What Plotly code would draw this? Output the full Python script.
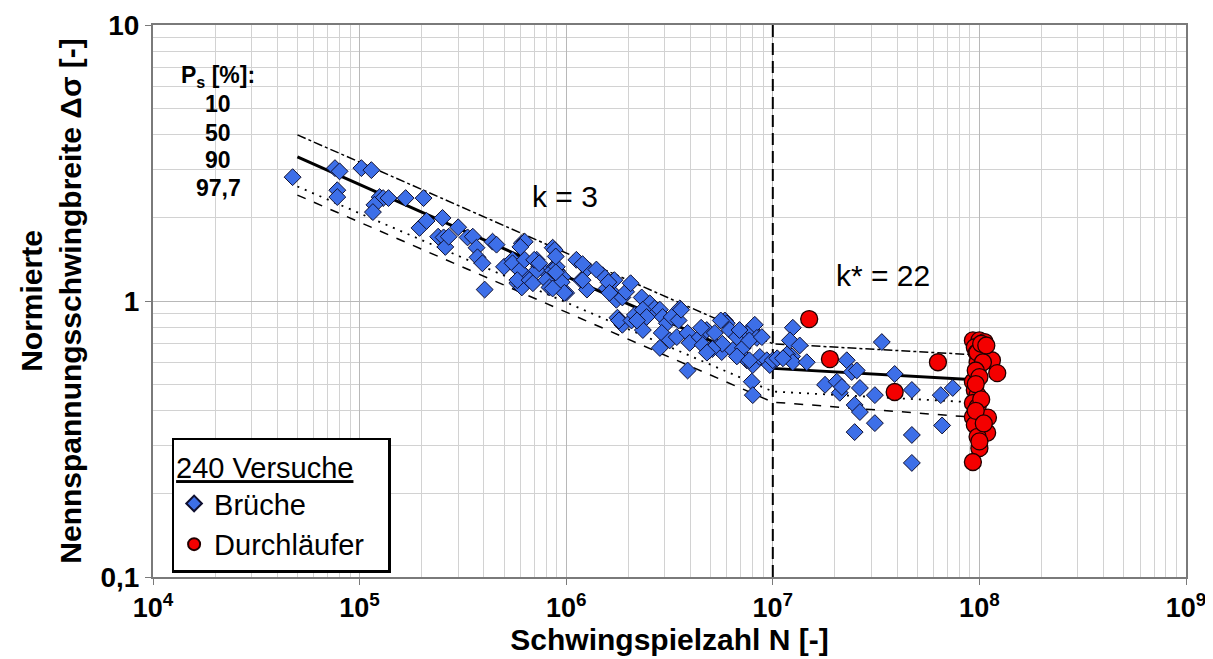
import plotly.graph_objects as go

# ---------------- data ----------------
brueche_N = [
    4.74e4, 7.6e4, 8.0e4, 7.8e4, 7.8e4, 1.02e5, 1.14e5, 1.25e5, 1.30e5, 1.38e5,
    1.18e5, 1.16e5, 1.67e5, 2.04e5, 1.95e5, 2.11e5, 2.52e5, 3.0e5, 2.4e5, 2.55e5,
    2.6e5, 2.7e5, 3.33e5, 3.53e5, 3.68e5, 3.72e5, 3.93e5, 4.03e5, 4.4e5, 4.6e5,
    5.0e5, 5.5e5, 5.8e5, 6.1e5, 6.1e5, 6.3e5, 5.8e5, 6.1e5, 7.2e5, 7.4e5,
    8.0e5, 8.1e5, 8.6e5, 8.8e5, 9.0e5, 9.6e5, 1.0e6,
    5.5e5, 5.96e5, 5.8e5, 6.3e5, 6.0e5, 6.65e5, 6.9e5, 7.2e5, 7.0e5, 7.4e5,
    8.0e5, 8.3e5, 8.6e5, 8.8e5, 9.0e5, 9.5e5, 9.8e5, 1.12e6, 1.18e6, 1.26e6,
    1.26e6, 1.50e6, 1.57e6, 1.66e6, 1.71e6, 1.75e6, 1.87e6, 1.95e6, 1.77e6, 1.87e6,
    8.9e5, 8.9e5, 8.6e5, 1.2e6, 1.6e6, 2.05e6, 1.2e6, 1.4e6,
    1.62e6, 2.32e6, 2.54e6, 2.68e6, 1.8e6, 2.07e6, 2.15e6, 2.35e6, 2.45e6, 2.84e6,
    2.93e6, 3.07e6, 3.24e6, 3.55e6, 2.35e6, 2.90e6, 3.17e6, 3.43e6, 3.87e6, 3.96e6,
    2.84e6, 3.87e6, 4.43e6, 4.58e6, 4.79e6, 4.95e6, 5.24e6, 5.36e6, 5.66e6, 5.86e6,
    5.99e6, 6.19e6, 6.40e6, 6.70e6, 7.16e6, 7.48e6, 7.91e6, 8.18e6, 8.37e6, 7.48e6,
    8.0e6, 8.65e6, 9.35e6, 9.67e6, 7.91e6, 8.0e6,
    4.5e6, 5.6e6, 6.9e6, 7.7e6, 6.7e6, 7.7e6, 5.7e6, 5.1e6, 4.8e6, 3.5e6, 2.2e6, 3.6e6,
    8.85e6, 1.0e7, 1.05e7,
    1.25e7, 1.21e7, 1.35e7, 1.24e7, 1.17e7, 1.25e7, 1.46e7, 1.12e7, 1.79e7, 2.04e7,
    2.11e7, 2.28e7, 2.41e7, 2.55e7, 2.64e7, 2.16e7, 2.49e7, 2.64e7, 3.12e7, 3.12e7,
    2.49e7, 3.37e7, 3.89e7, 4.71e7, 4.71e7, 4.71e7, 6.5e7, 7.43e7, 6.6e7,
]
brueche_S = [
    2.81, 3.03, 2.95, 2.52, 2.38, 3.03, 2.98, 2.38, 2.36, 2.36,
    2.23, 2.10, 2.36, 2.36, 1.84, 1.95, 2.00, 1.85, 1.71, 1.70,
    1.57, 1.71, 1.70, 1.71, 1.56, 1.44, 1.37, 1.10, 1.64, 1.60,
    1.33, 1.41, 1.33, 1.27, 1.62, 1.64, 1.16, 1.12, 1.41, 1.33,
    1.27, 1.19, 1.56, 1.33, 1.29, 1.22, 1.07,
    1.37, 1.29, 1.19, 1.41, 1.57, 1.19, 1.16, 1.29, 1.41, 1.37,
    1.19, 1.12, 1.29, 1.53, 1.33, 1.17, 1.07, 1.41, 1.19, 1.31,
    1.10, 1.24, 1.11, 1.08, 1.19, 1.01, 1.03, 1.08, 0.87, 0.82,
    1.45, 1.27, 1.11, 1.19, 1.17, 1.16, 1.36, 1.30,
    1.07, 1.03, 0.98, 0.94, 0.85, 0.85, 0.89, 0.93, 0.875, 0.93,
    0.875, 0.83, 0.875, 0.94, 0.785, 0.766, 0.72, 0.74, 0.766, 0.705,
    0.676, 0.56, 0.74, 0.693, 0.785, 0.664, 0.766, 0.68, 0.653, 0.85,
    0.83, 0.785, 0.664, 0.74, 0.676, 0.766, 0.785, 0.82, 0.735, 0.61,
    0.586, 0.627, 0.61, 0.586, 0.51, 0.456,
    0.80, 0.85, 0.785, 0.72, 0.63, 0.61, 0.70, 0.67, 0.65, 0.85, 0.85, 0.93,
    0.74, 0.61, 0.62,
    0.80, 0.72, 0.69, 0.63, 0.64, 0.60, 0.60, 0.62, 0.497, 0.51,
    0.465, 0.61, 0.553, 0.56, 0.484, 0.488, 0.42, 0.396, 0.456, 0.361,
    0.335, 0.71, 0.544, 0.476, 0.327, 0.259, 0.456, 0.484, 0.354,
]
durch_N = [
    1.5e7, 1.89e7, 3.89e7, 6.3e7,
    9.3e7, 1.0e8, 1.06e8, 9.5e7, 9.7e7, 9.8e7, 1.15e8, 1.22e8, 9.8e7, 9.3e7,
    9.5e7, 9.8e7, 9.3e7, 9.8e7, 9.3e7, 1.1e8, 9.5e7, 1.09e8, 9.8e7, 1.0e8,
    9.3e7, 9.8e7, 1.04e8,
    1.02e8, 1.08e8, 9.6e7, 1.0e8, 9.6e7, 1.02e8, 9.6e7, 1.05e8, 1.0e8,
]
durch_S = [
    0.86, 0.616, 0.468, 0.60,
    0.72, 0.72, 0.71, 0.68, 0.65, 0.60, 0.61, 0.548, 0.548, 0.51,
    0.476, 0.456, 0.427, 0.413, 0.38, 0.378, 0.356, 0.333, 0.322, 0.293,
    0.261, 0.65, 0.60,
    0.70, 0.69, 0.56, 0.53, 0.50, 0.44, 0.40, 0.36, 0.31,
]

# Woehler lines (Ps = 10 / 50 / 90 / 97.7 %)
line_N = [5.0e4, 1.0e7, 9.0e7]
ps10 = [4.00, 0.70, 0.64]
ps50 = [3.33, 0.57, 0.52]
ps90 = [2.60, 0.47, 0.43]
ps977 = [2.42, 0.43, 0.38]

knee_N = [1.0e7, 1.0e7]
knee_S = [0.1, 10.0]

x_tickvals = [1e4, 1e5, 1e6, 1e7, 1e8, 1e9]
x_ticktext = ["10<sup>4</sup>", "10<sup>5</sup>", "10<sup>6</sup>",
              "10<sup>7</sup>", "10<sup>8</sup>", "10<sup>9</sup>"]
y_tickvals = [0.1, 1, 10]
y_ticktext = ["0,1", "1", "10"]

# ---------------- figure ----------------
FONT = "Liberation Sans, Arial, sans-serif"
fig = go.Figure()

line_styles = [
    (ps10, "dashdot", 1.5),
    (ps50, "solid", 3),
    (ps90, "2px,6px", 1.8),
    (ps977, "dash", 1.5),
]
for vals, dash, w in line_styles:
    fig.add_trace(go.Scatter(x=line_N, y=vals, mode="lines",
                             line=dict(color="black", width=w, dash=dash),
                             showlegend=False, hoverinfo="skip"))

fig.add_trace(go.Scatter(x=knee_N, y=knee_S, mode="lines",
                         line=dict(color="black", width=2, dash="12px,6px"),
                         showlegend=False, hoverinfo="skip"))

fig.add_trace(go.Scatter(x=brueche_N, y=brueche_S, mode="markers", name="Brüche",
                         marker=dict(symbol="diamond", size=13, color="#3d6fe8",
                                     line=dict(color="#101030", width=1))))
fig.add_trace(go.Scatter(x=durch_N, y=durch_S, mode="markers", name="Durchläufer",
                         marker=dict(symbol="circle", size=17, color="#f40000",
                                     line=dict(color="#200000", width=1.3))))

minor_x = [k * 10 ** e for e in range(4, 9) for k in range(2, 10)]
minor_y = [k * 10.0 ** e for e in range(-1, 1) for k in range(2, 10)]

fig.update_xaxes(type="log", range=[4, 9], tickvals=x_tickvals, ticktext=x_ticktext,
                 automargin=False,
                 showgrid=True, gridcolor="#b8b8b8", gridwidth=1,
                 minor=dict(tickvals=minor_x, showgrid=True, gridcolor="#d2d2d2",
                            gridwidth=1, ticks=""),
                 showline=True, linecolor="#7a7a7a", linewidth=2, mirror=True,
                 ticks="outside", ticklen=6, tickcolor="#7a7a7a",
                 tickfont=dict(family=FONT, size=27, color="black", weight="bold"),
                 title=dict(text="Schwingspielzahl N [-]", standoff=0,
                            font=dict(family=FONT, size=30, color="black", weight="bold")),
                 zeroline=False)
fig.update_yaxes(type="log", range=[-1, 1], tickvals=y_tickvals, ticktext=y_ticktext,
                 automargin=False,
                 showgrid=True, gridcolor="#b8b8b8", gridwidth=1,
                 minor=dict(tickvals=minor_y, showgrid=True, gridcolor="#d2d2d2",
                            gridwidth=1, ticks=""),
                 showline=True, linecolor="#7a7a7a", linewidth=2, mirror=True,
                 ticks="outside", ticklen=6, tickcolor="#7a7a7a",
                 tickfont=dict(family=FONT, size=28, color="black", weight="bold"),
                 title=dict(text="Normierte<br>Nennspannungsschwingbreite Δσ [-]", standoff=10,
                            font=dict(family=FONT, size=30, color="black", weight="bold")),
                 zeroline=False)

# white label boxes (between grid and data)
boxes = [
    (0.0136, 0.678, 0.115, 0.937),   # Ps block
    (0.348, 0.650, 0.452, 0.735),    # k = 3
    (0.645, 0.505, 0.770, 0.592),    # k* = 22
]
for x0, y0, x1, y1 in boxes:
    fig.add_shape(type="rect", xref="paper", yref="paper", x0=x0, y0=y0, x1=x1, y1=y1,
                  fillcolor="white", line=dict(width=0), layer="between")

ann_font = dict(family=FONT, size=23, color="black", weight="bold")
ps_lines = ["P<sub>s</sub> [%]:", "10", "50", "90", "97,7"]
ps_y = [0.906, 0.856, 0.805, 0.755, 0.704]
for t, yy in zip(ps_lines, ps_y):
    fig.add_annotation(text=t, xref="paper", yref="paper", x=0.063, y=yy,
                       showarrow=False, font=ann_font, xanchor="center", yanchor="middle")

fig.add_annotation(text="k = 3", xref="paper", yref="paper", x=0.399, y=0.690,
                   xanchor="center", yanchor="middle",
                   showarrow=False, font=dict(family=FONT, size=30, color="black"))
fig.add_annotation(text="k* = 22", xref="paper", yref="paper", x=0.707, y=0.547,
                   xanchor="center", yanchor="middle",
                   showarrow=False, font=dict(family=FONT, size=30, color="black"))

# page body has an 8px margin: figure is sized/offset so the plot lands where the reference has it
fig.update_layout(
    width=1205, height=651,
    margin=dict(l=145, r=27, t=17, b=82, autoexpand=False),
    paper_bgcolor="white", plot_bgcolor="white",
    font=dict(family=FONT, color="black"),
    legend=dict(x=0.018, y=0.252, xanchor="left", yanchor="top",
                bgcolor="white", bordercolor="black", borderwidth=2.5,
                font=dict(family=FONT, size=29, color="black"),
                title=dict(text="<u>240 Versuche</u>&nbsp;&nbsp;&nbsp;&nbsp;",
                           font=dict(family=FONT, size=29, color="black")),
                itemsizing="constant", tracegroupgap=0),
)

fig.write_html("out.html")
